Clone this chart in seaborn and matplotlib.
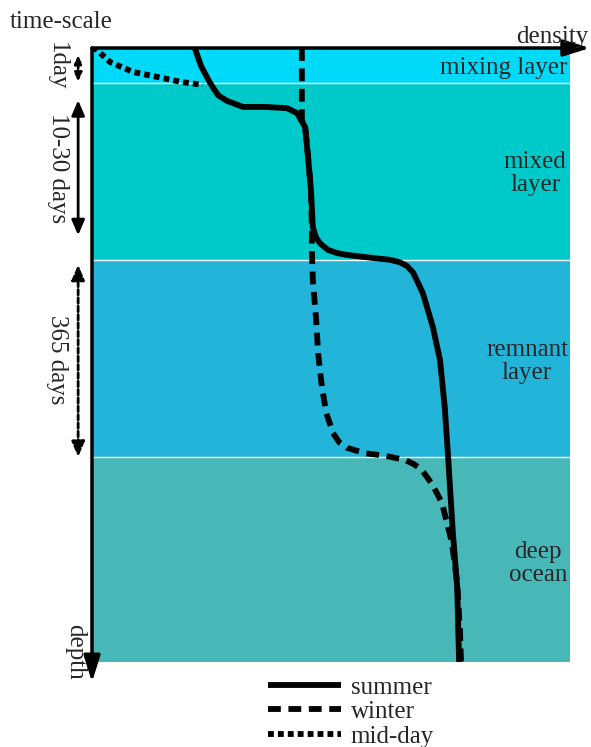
import matplotlib
matplotlib.use('Agg')

import matplotlib.pyplot as plt
import pandas as pd
import seaborn as sns

# density profiles (density, depth), arbitrary units 0-100
summer_density = [21.5, 22.8, 24.7, 26.4, 28.2, 31.6, 36.2, 40.8, 42.9, 44.6, 45.2, 45.8, 46.2,
                  46.9, 47.7, 49.4, 51.3, 53.3, 58.8, 62.4, 64.4, 65.9, 67.2, 69.2, 71.3, 72.8,
                  73.8, 74.5, 75.5, 76.4, 76.8]
summer_depth = [0, 2.9, 5.7, 7.7, 8.6, 9.6, 9.6, 9.8, 10.6, 12.9, 17.8, 23.1, 29.2,
                30.9, 31.8, 32.9, 33.4, 33.7, 34.2, 34.5, 34.9, 35.5, 36.6, 39.9, 45.4, 50.8,
                58.5, 66.6, 79.0, 87.8, 100]

winter_density = [43.9, 43.9, 44.6, 45.2, 45.8, 46.0, 46.0, 46.2, 46.9, 47.3, 48.1, 49.0, 50.4,
                  51.7, 53.3, 57.1, 61.3, 65.5, 67.4, 69.0, 71.3, 73.2, 74.3, 75.3, 76.4, 77.0, 77.2]
winter_depth = [0, 11.7, 12.9, 17.8, 23.1, 29.6, 32.9, 37.8, 44.3, 49.7, 55.2, 59.4, 62.7,
                64.2, 65.1, 66.0, 66.4, 67.1, 67.8, 68.7, 71.2, 74.1, 77.4, 80.6, 87.1, 95.3, 100]

midday_density = [0, 1.0, 3.8, 8.6, 13.6, 18.4, 23.2]
midday_depth = [0, 0.3, 2.3, 3.9, 4.7, 5.5, 6.0]

# layers: name, top, bottom, colour
layer_names = ['mixing layer', 'mixed\nlayer', 'remnant\nlayer', 'deep\nocean']
layer_tops = [0, 5.7, 34.5, 66.6]
layer_bottoms = [5.7, 34.5, 66.6, 100]
layer_colors = ['#00D9F8', '#00C9C9', '#23B4DA', '#48B7B7']

# time-scale arrows on the left
time_labels = ['1day', '10-30 days', '365 days']
time_tops = [1.1, 8.5, 35.3]
time_bottoms = [5.5, 30.5, 66.6]

sns.set_style("white")
plt.rcParams['font.family'] = ['Liberation Serif', 'DejaVu Serif']

W, H = 591, 747
fig = plt.figure(figsize=(W / 100, H / 100), dpi=100)
ax = fig.add_axes([92 / W, 1 - 662 / H, 478 / W, 614 / H])
ax.set_xlim(0, 100)
ax.set_ylim(100, 0)
ax.axis('off')

# coloured layers with thin white separators
for top, bottom, col in zip(layer_tops, layer_bottoms, layer_colors):
    ax.axhspan(top, bottom, color=col, lw=0, zorder=0)
for b in layer_bottoms[:-1]:
    ax.axhline(b, color='white', lw=1, zorder=1)

# layer labels
ax.text(99.4, 3.3, layer_names[0], ha='right', va='center', fontsize=18)
label_pos = [(92.7, 20.5), (91.0, 51.0), (93.3, 83.9)]
for name, (lx, ly) in zip(layer_names[1:], label_pos):
    ax.text(lx, ly, name, ha='center', va='center', fontsize=18,
            multialignment='center', linespacing=1.05)

# profiles
df_s = pd.DataFrame({'density': summer_density, 'depth': summer_depth})
df_w = pd.DataFrame({'density': winter_density, 'depth': winter_depth})
df_m = pd.DataFrame({'density': midday_density, 'depth': midday_depth})

sns.lineplot(data=df_s, x='density', y='depth', sort=False, estimator=None, ax=ax,
             color='black', lw=4.2, label='summer', zorder=3)
sns.lineplot(data=df_w, x='density', y='depth', sort=False, estimator=None, ax=ax,
             color='black', lw=4.2, linestyle=(0, (2.2, 1.3)), label='winter', zorder=3)
sns.lineplot(data=df_m, x='density', y='depth', sort=False, estimator=None, ax=ax,
             color='black', lw=4.2, linestyle=(0, (1, 0.7)), label='mid-day', zorder=3)
for ln in ax.get_lines()[-3:]:
    ln.set_dash_capstyle('butt')
    ln.set_solid_capstyle('butt')
    ln.set_solid_joinstyle('round')
    ln.set_dash_joinstyle('round')

# axes arrows
ax.annotate('', xy=(1.042, 1), xytext=(0, 1), xycoords='axes fraction',
            arrowprops=dict(arrowstyle='-|>,head_length=0.8,head_width=0.25',
                            lw=2.5, color='black', mutation_scale=20,
                            shrinkA=0, shrinkB=0), annotation_clip=False)
ax.annotate('', xy=(0, -0.033), xytext=(0, 1), xycoords='axes fraction',
            arrowprops=dict(arrowstyle='-|>,head_length=0.8,head_width=0.25',
                            lw=2.5, color='black', mutation_scale=20,
                            shrinkA=0, shrinkB=0), annotation_clip=False)

# time-scale double arrows
arrow_styles = [(0, (1, 0.8)), '-', (0, (2, 1))]
head_scales = [7, 13, 13]
for t0, t1, ls, ms in zip(time_tops, time_bottoms, arrow_styles, head_scales):
    ax.annotate('', xy=(-2.9, t0), xytext=(-2.9, t1),
                arrowprops=dict(arrowstyle='<|-|>,head_length=0.7,head_width=0.3',
                                lw=2, ls=ls, color='black', mutation_scale=ms,
                                shrinkA=0, shrinkB=0), annotation_clip=False)

text_x = [57, 58, 57]
text_y = [66, 168, 360]
for lab, tx, ty in zip(time_labels, text_x, text_y):
    fig.text(tx / W, 1 - ty / H, lab, rotation=270, ha='center', va='center', fontsize=18)

fig.text(10 / W, 1 - 28 / H, 'time-scale', ha='left', va='baseline', fontsize=18)
fig.text(588 / W, 1 - 43 / H, 'density', ha='right', va='baseline', fontsize=18)
fig.text(75 / W, 1 - 652 / H, 'depth', rotation=270, ha='center', va='center', fontsize=18)

ax.legend(loc='upper left', bbox_to_anchor=(268 / W, 1 - 676 / H), bbox_transform=fig.transFigure,
          frameon=False, fontsize=18, handlelength=2.9, handletextpad=0.4,
          labelspacing=0.08, borderpad=0, borderaxespad=0)

fig.savefig('out.png', dpi=100, facecolor='white')
